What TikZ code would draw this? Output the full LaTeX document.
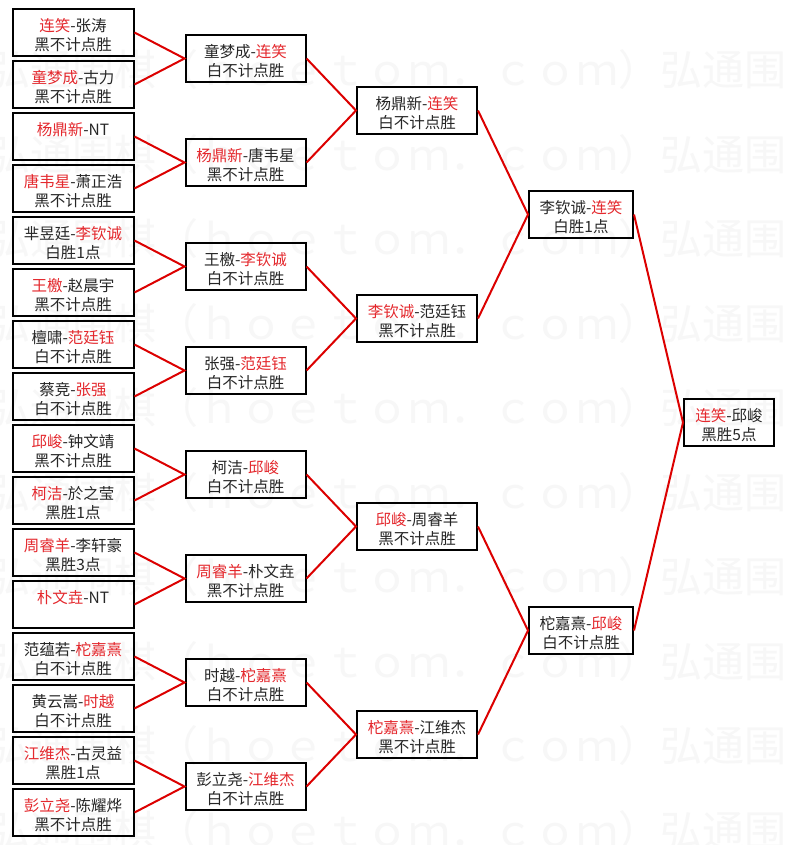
\documentclass[tikz,border=0pt]{standalone}
\usepackage{fontspec}
\setmainfont{Noto Sans CJK SC}
\usepackage{xcolor}
\definecolor{winred}{RGB}{228,40,45}
\definecolor{wirered}{RGB}{220,0,0}
\newcommand{\win}[1]{\textcolor{winred}{#1}}
\newcommand{\topstrut}{\rule{0pt}{23pt}}

\begin{document}
\begin{tikzpicture}[x=1pt,y=-1pt,
    box/.style={draw=black, line width=2pt, text=black!85, minimum height=45pt,
      inner sep=0pt, align=center, font=\fontsize{15.5}{19}\selectfont},
    wire/.style={draw=wirered, line width=2pt}]
            \useasboundingbox (0,0) rectangle (785,845);
            \fill[white] (0,0) rectangle (785,845);

            % Watermark
            \foreach \k in {0,...,9}
                \node[anchor=west, text=black!3, inner sep=0pt, font=\fontsize{42}{42}\selectfont] (wm\k) at (-12, {70+84.5*\k}) {弘通围棋（ｈｏｅｔｏｍ．ｃｏｍ）弘通围棋};

            % Round 1
            \foreach \i/\t/\r in {1/{\win{连笑}-张涛}/黑不计点胜, 2/{\win{童梦成}-古力}/黑不计点胜,
                3/{\win{杨鼎新}-NT}/{}, 4/{\win{唐韦星}-萧正浩}/黑不计点胜,
                5/{芈昱廷-\win{李钦诚}}/白胜1点, 6/{\win{王檄}-赵晨宇}/黑不计点胜,
                7/{檀啸-\win{范廷钰}}/白不计点胜, 8/{蔡竞-\win{张强}}/白不计点胜,
                9/{\win{邱峻}-钟文靖}/黑不计点胜, 10/{\win{柯洁}-於之莹}/黑胜1点,
                11/{\win{周睿羊}-李轩豪}/黑胜3点, 12/{\win{朴文垚}-NT}/{},
                13/{范蕴若-\win{柁嘉熹}}/白不计点胜, 14/{黄云嵩-\win{时越}}/白不计点胜,
                15/{\win{江维杰}-古灵益}/黑胜1点, 16/{\win{彭立尧}-陈耀烨}/黑不计点胜}
                \node[box, minimum width=121pt] (a\i) at (73, {32.5+52*(\i-1)}) {\topstrut\t\\\strut\r};

            % Round 2
            \foreach \j/\t/\r in {1/{童梦成-\win{连笑}}/白不计点胜, 2/{\win{杨鼎新}-唐韦星}/黑不计点胜,
                3/{王檄-\win{李钦诚}}/白不计点胜, 4/{张强-\win{范廷钰}}/白不计点胜,
                5/{柯洁-\win{邱峻}}/白不计点胜, 6/{\win{周睿羊}-朴文垚}/黑不计点胜,
                7/{时越-\win{柁嘉熹}}/白不计点胜, 8/{彭立尧-\win{江维杰}}/白不计点胜}
                \node[box, minimum width=120pt] (b\j) at (245.5, {58.5+104*(\j-1)}) {\topstrut\t\\\strut\r};

            % Round 3
            \foreach \k/\t/\r in {1/{杨鼎新-\win{连笑}}/白不计点胜, 2/{\win{李钦诚}-范廷钰}/黑不计点胜,
                3/{\win{邱峻}-周睿羊}/黑不计点胜, 4/{\win{柁嘉熹}-江维杰}/黑不计点胜}
                \node[box, minimum width=120pt] (c\k) at (417, {110.5+208*(\k-1)}) {\topstrut\t\\\strut\r};

            % Semifinal
            \node[box, minimum width=104pt] (d1) at (581, 214.5) {\topstrut 李钦诚-\win{连笑}\\\strut 白胜1点};
            \node[box, minimum width=104pt] (d2) at (581, 630.5) {\topstrut 柁嘉熹-\win{邱峻}\\\strut 白不计点胜};

            % Final
            \node[box, minimum width=90pt] (e) at (729, 422.5) {\topstrut\win{连笑}-邱峻\\\strut 黑胜5点};

            % Wires
            \foreach \j in {1,...,8} {
                \pgfmathtruncatemacro{\up}{2*\j-1}
                \pgfmathtruncatemacro{\dn}{2*\j}
                \draw[wire] (a\up.east) -- (b\j.west) -- (a\dn.east);
            }
            \foreach \k in {1,...,4} {
                \pgfmathtruncatemacro{\up}{2*\k-1}
                \pgfmathtruncatemacro{\dn}{2*\k}
                \draw[wire] (b\up.east) -- (c\k.west) -- (b\dn.east);
            }
            \draw[wire] (c1.east) -- (d1.west) -- (c2.east);
            \draw[wire] (c3.east) -- (d2.west) -- (c4.east);
            \draw[wire] (d1.east) -- (e.west) -- (d2.east);
         \end{tikzpicture}
\end{document}
